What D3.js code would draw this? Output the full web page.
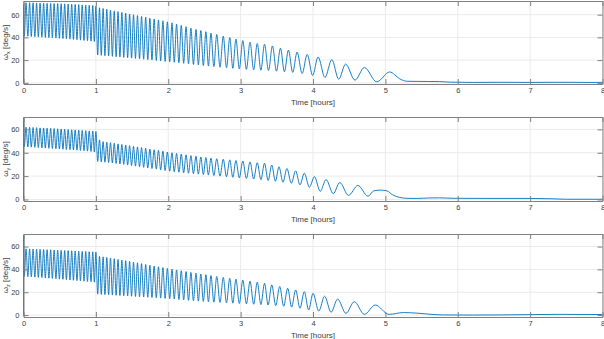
<!DOCTYPE html>
<html><head><meta charset="utf-8">
<script src="https://cdn.jsdelivr.net/npm/d3@7/dist/d3.min.js"></script>
<style>
body{margin:0;background:#fff}
svg{display:block}
text{font-family:"Liberation Sans",Arial,Helvetica,sans-serif}
</style>
</head><body>
<svg id="c" width="604" height="339"></svg>
<script>
// ---- tick labels ----
const xTicks = [0,1,2,3,4,5,6,7,8];
const yTicks = [0,20,40,60];
const xLabel = "Time [hours]";
const yLabels = ["x","y","z"];

// ---- shared times of the dense oscillation extrema (hours) ----
const tStart = [0, 0.002];
const tPeak = [0.035,0.084,0.132,0.181,0.229,0.278,0.326,0.375,0.423,0.472,
  0.52,0.569,0.617,0.666,0.714,0.763,0.811,0.86,0.908,0.957,
  1.0,1.05,1.1,1.151,1.202,1.254,1.306,1.359,1.412,1.466,
  1.52,1.575,1.631,1.688,1.746,1.805,1.865,1.926,1.988,2.051,
  2.115,2.18,2.246,2.313,2.383,2.45,2.52,2.59,2.67,2.76,
  2.85,2.935,3.03,3.13,3.23];
const tTrough = [0.011,0.06,0.108,0.157,0.205,0.254,0.302,0.351,0.399,0.448,
  0.496,0.545,0.593,0.642,0.69,0.739,0.787,0.836,0.884,0.933,
  0.979,1.025,1.075,1.125,1.176,1.228,1.28,1.332,1.385,1.439,
  1.493,1.547,1.603,1.66,1.717,1.775,1.835,1.895,1.957,2.02,
  2.083,2.147,2.213,2.28,2.348,2.416,2.485,2.555,2.63,2.715,
  2.805,2.892,2.982,3.08,3.18,3.28];

// ---- omega_x [deg/s] ----
const wxStart = [0, 69];
const wxPeak = [70.5,70.5,70.4,70.3,70.2,70.1,70,69.9,69.8,69.7,
  69.6,69.5,69.4,69.2,69,68.8,68.6,68.4,68.2,68,
  67.5,66,65.4,64.7,64,63.3,62.7,62,61.3,60.6,
  59.9,59.2,58.4,57.7,56.9,56.2,55.4,54.6,53.7,52.8,
  51.7,50.6,49.4,48.2,47,46,45,43.8,42.5,41.2,
  39.8,38.5,37.2,35.8,34.6];
const wxTrough = [41,41,40.8,40.6,40.4,40.2,40,39.8,39.6,39.4,
  39.2,39,38.8,38.5,38.2,37.9,37.6,37.3,37,36.7,
  36.4,24.5,24.2,23.9,23.6,23.3,23,22.7,22.4,22.1,
  21.8,21.5,21.1,20.8,20.4,20.1,19.7,19.3,18.9,18.5,
  18.1,17.7,17.2,16.7,16.2,15.7,15.2,14.8,14.3,13.8,
  13.3,12.8,12.3,11.9,11.5,11.1];
const wxTailT = [3.33,3.385,3.44,3.495,3.55,3.605,3.66,3.72,3.78,3.85,3.92,3.995,4.07,4.165,4.26,4.355,4.45,4.58,4.71,4.88,5.06,5.2,5.3,5.45,5.6,5.75,5.9,6.2,6.6,7.0,7.4,7.8,8.0];
const wxTailV = [34,10.8,32.5,10.3,30.5,9.8,28.8,9.2,27,8.2,25,6.5,22.8,4.7,20.5,3.2,16.5,2.4,13.5,0.9,9.6,3.5,1.4,1.3,1.2,1.1,0.6,0.4,0.5,0.4,0.5,0.4,0.4];

// ---- omega_y [deg/s] ----
const wyStart = [0, 70];
const wyPeak = [61.8,61.7,61.6,61.5,61.3,61.2,61,60.9,60.7,60.5,
  60.3,60.1,59.9,59.7,59.5,59.3,59.1,58.9,58.7,58.5,
  58.3,51,49.5,49,48.6,48.1,47.6,47.1,46.6,46.1,
  45.5,45,44.4,43.8,43.2,42.6,42,41.3,40.6,40,
  39.4,38.8,38.2,37.6,37,36.4,35.9,35.4,34.9,34.4,
  33.9,33.4,32.9,32.2,31.5];
const wyTrough = [45.2,45,44.8,44.6,44.4,44.2,44,43.8,43.6,43.4,
  43.2,43,42.8,42.6,42.4,42.2,42,41.7,41.4,41.1,
  40.8,32.5,32.2,31.9,31.6,31.2,30.8,30.4,30,29.5,
  29,28.5,28,27.5,27,26.5,26,25.4,24.8,24.2,
  23.7,23.3,22.9,22.5,22.1,21.7,21.3,20.9,20.5,20,
  19.5,19,18.5,18,17.5,17];
const wyTailT = [3.33,3.38,3.43,3.48,3.53,3.585,3.64,3.7,3.76,3.82,3.88,3.95,4.02,4.1,4.18,4.28,4.37,4.49,4.62,4.76,4.84,4.93,5.02,5.1,5.2,5.3,5.45,5.6,5.75,5.95,6.5,7.0,7.3,7.5,8.0];
const wyTailV = [31,16.2,29.5,15.6,28,14.8,26.5,13.8,24.5,12.5,22.5,10.5,19.5,7,17,5,14.5,3.5,12,2.8,7.4,8,7.4,4,1.7,1.0,0.9,1.3,1.4,1.0,0.9,0.9,0.6,0.2,0.2];

// ---- omega_z [deg/s] ----
const wzStart = [0, 70];
const wzPeak = [58,57.9,57.8,57.7,57.6,57.5,57.3,57.2,57,56.9,
  56.7,56.6,56.4,56.3,56.1,56,55.8,55.7,55.5,55.4,
  55.2,51.5,51,50.5,50,49.4,48.8,48.2,47.6,47,
  46.4,45.8,45.1,44.4,43.7,43,42.3,41.6,40.9,40.2,
  39.5,38.8,38.1,37.4,36.7,36,35.3,34.6,33.8,33,
  32.2,31.4,30.6,29.7,28.8];
const wzTrough = [33.8,33.6,33.4,33.2,33,32.8,32.5,32.3,32,31.8,
  31.5,31.3,31,30.7,30.5,30.2,30,29.7,29.4,29.1,
  28.8,18.3,18.1,17.9,17.7,17.5,17.3,17.1,16.9,16.7,
  16.5,16.2,16,15.8,15.6,15.3,15.1,14.9,14.6,14.3,
  14,13.6,13.2,12.9,12.5,12.2,11.9,11.6,11.3,11,
  10.7,10.4,10.1,9.8,9.5,9.2];
const wzTailT = [3.33,3.38,3.43,3.485,3.54,3.595,3.65,3.705,3.76,3.82,3.88,3.94,4.0,4.08,4.16,4.25,4.34,4.455,4.57,4.71,4.86,5.05,5.25,5.45,5.6,5.8,6.2,6.6,7.0,7.4,7.8,8.0];
const wzTailV = [27.8,8.8,26.5,8.3,25,7.7,23.5,7,22,6,20.5,4.5,19,3.5,16.5,2.5,14,1.5,11.7,0.6,8.8,0.6,2.2,1.6,0.8,0.1,0,0.1,0.4,0.6,0.5,0.5];

// ---- build series from the arrays ----
function build(startV, peakV, troughV, tailT, tailV){
  const pts = [];
  tStart.forEach((t,i)=>pts.push([t,startV[i]]));
  tPeak.forEach((t,i)=>pts.push([t,peakV[i]]));
  tTrough.forEach((t,i)=>pts.push([t,troughV[i]]));
  tailT.forEach((t,i)=>pts.push([t,tailV[i]]));
  pts.sort((a,b)=>a[0]-b[0]);
  return pts;
}
const series = [
  build(wxStart,wxPeak,wxTrough,wxTailT,wxTailV),
  build(wyStart,wyPeak,wyTrough,wyTailT,wyTailV),
  build(wzStart,wzPeak,wzTrough,wzTailT,wzTailV)
];

// ---- layout ----
const panels = [
  {top:1,   bottom:84,  dom:[-1,72]},
  {top:117, bottom:201, dom:[-1.3,70.6]},
  {top:234, bottom:317, dom:[-1.7,71]}
];
const left = 23.5, right = 602.5;
const svg = d3.select("#c");
const x = d3.scaleLinear().domain([0,8]).range([left,right]);
const lineColor = "#0072BD", axisColor = "#808080", gridColor = "#ebebeb", textColor = "#404040";

panels.forEach((p,i)=>{
  const y = d3.scaleLinear().domain(p.dom).range([p.bottom,p.top]);
  const g = svg.append("g");
  // grid
  g.selectAll(".gx").data(xTicks).join("line")
    .attr("x1",d=>x(d)).attr("x2",d=>x(d)).attr("y1",p.top).attr("y2",p.bottom)
    .attr("stroke",gridColor).attr("stroke-width",1);
  g.selectAll(".gy").data(yTicks).join("line")
    .attr("x1",left).attr("x2",right).attr("y1",d=>y(d)).attr("y2",d=>y(d))
    .attr("stroke",gridColor).attr("stroke-width",1);
  // data line
  const line = d3.line().x(d=>x(d[0])).y(d=>y(d[1])).curve(d3.curveMonotoneX);
  g.append("path").datum(series[i]).attr("d",line)
    .attr("fill","none").attr("stroke",lineColor).attr("stroke-width",0.9);
  // axes (bottom & left with labels; top & right with ticks only)
  const tl = 5;
  const ax = g.append("g").attr("transform",`translate(0,${p.bottom})`)
    .call(d3.axisBottom(x).tickValues(xTicks).tickSizeInner(-tl).tickSizeOuter(0).tickPadding(3.5).tickFormat(d3.format("d")));
  const ay = g.append("g").attr("transform",`translate(${left},0)`)
    .call(d3.axisLeft(y).tickValues(yTicks).tickSizeInner(-tl).tickSizeOuter(0).tickPadding(4).tickFormat(d3.format("d")));
  const at = g.append("g").attr("transform",`translate(0,${p.top})`)
    .call(d3.axisTop(x).tickValues(xTicks).tickSizeInner(-tl).tickSizeOuter(0).tickFormat(""));
  const ar = g.append("g").attr("transform",`translate(${right},0)`)
    .call(d3.axisRight(y).tickValues(yTicks).tickSizeInner(-tl).tickSizeOuter(0).tickFormat(""));
  [ax,ay,at,ar].forEach(a=>{
    a.select(".domain").attr("stroke",axisColor);
    a.selectAll(".tick line").attr("stroke",axisColor);
    a.selectAll(".tick text").attr("fill",textColor).attr("font-size","7.5px")
      .attr("font-family",'"Liberation Sans",Arial,sans-serif');
  });
  // x label
  g.append("text").attr("x",(left+right)/2).attr("y",p.bottom+20.5)
    .attr("text-anchor","middle").attr("font-size","8px").attr("fill",textColor).text(xLabel);
  // y label
  const cy = (p.top+p.bottom)/2;
  const yl = g.append("text").attr("transform",`translate(8,${cy}) rotate(-90)`)
    .attr("text-anchor","middle").attr("font-size","8px").attr("fill",textColor);
  yl.append("tspan").text("ω");
  yl.append("tspan").attr("font-size","5.5px").attr("dy","2").text(yLabels[i]);
  yl.append("tspan").attr("dy","-2").text(" [deg/s]");
});
</script>
</body></html>
